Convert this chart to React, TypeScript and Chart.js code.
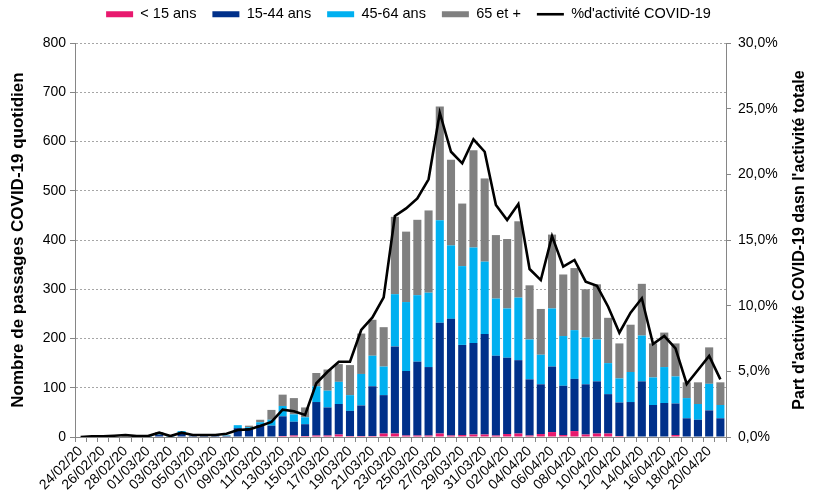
import React, { useEffect, useRef } from "react";
import { Chart, registerables } from "chart.js";

Chart.register(...registerables);

const categories = [
  "24/02/20", "25/02/20", "26/02/20", "27/02/20", "28/02/20", "29/02/20",
  "01/03/20", "02/03/20", "03/03/20", "04/03/20", "05/03/20", "06/03/20", "07/03/20", "08/03/20",
  "09/03/20", "10/03/20", "11/03/20", "12/03/20", "13/03/20", "14/03/20", "15/03/20", "16/03/20",
  "17/03/20", "18/03/20", "19/03/20", "20/03/20", "21/03/20", "22/03/20", "23/03/20", "24/03/20",
  "25/03/20", "26/03/20", "27/03/20", "28/03/20", "29/03/20", "30/03/20", "31/03/20",
  "01/04/20", "02/04/20", "03/04/20", "04/04/20", "05/04/20", "06/04/20", "07/04/20", "08/04/20",
  "09/04/20", "10/04/20", "11/04/20", "12/04/20", "13/04/20", "14/04/20", "15/04/20", "16/04/20",
  "17/04/20", "18/04/20", "19/04/20", "20/04/20", "21/04/20",
];

const under15 = [
  0, 0, 0, 0, 0, 0, 0, 0, 0, 1, 0, 0, 0, 0, 1, 1, 1, 1, 2, 3, 2, 3, 3, 5, 2, 2, 2, 7, 7,
  3, 3, 3, 7, 3, 4, 5, 5, 3, 6, 7, 3, 6, 10, 4, 12, 5, 7, 7, 2, 1, 1, 1, 1, 4, 1, 1, 1, 1,
];
const age15to44 = [
  0, 0, 1, 0, 1, 1, 1, 4, 1, 6, 2, 2, 2, 2, 17, 17, 24, 22, 40, 28, 24, 68, 57, 62, 51, 62, 101, 78, 177,
  131, 150, 139, 225, 237, 183, 186, 204, 162, 155, 149, 114, 101, 133, 100, 106, 102, 106, 80, 68, 70, 112, 64, 68, 64, 37, 34, 53, 37,
];
const age45to64 = [
  0, 0, 0, 1, 0, 0, 1, 1, 1, 5, 1, 1, 1, 1, 6, 2, 5, 12, 21, 15, 14, 32, 34, 45, 32, 64, 62, 58, 106,
  140, 135, 151, 208, 149, 160, 194, 147, 116, 100, 127, 81, 60, 118, 101, 99, 95, 85, 63, 49, 61, 93, 56, 73, 55, 41, 32, 54, 27,
];
const age65plus = [
  0, 0, 0, 0, 1, 0, 0, 5, 0, 0, 0, 0, 1, 1, 0, 3, 5, 20, 23, 33, 20, 27, 43, 36, 61, 82, 73, 80, 157,
  143, 153, 167, 231, 174, 127, 197, 169, 129, 141, 155, 110, 93, 150, 125, 126, 98, 112, 92, 71, 96, 105, 69, 70, 67, 32, 44, 74, 46,
];
const covidShare = [
  0.0, 0.05, 0.05, 0.1, 0.15, 0.07, 0.07, 0.33, 0.07, 0.33, 0.15, 0.15, 0.15, 0.25, 0.53, 0.58, 0.84, 1.15,
  2.08, 1.96, 1.68, 4.09, 4.97, 5.73, 5.73, 8.15, 9.1, 10.63, 16.83, 17.41, 18.17, 19.62, 24.69, 21.72,
  20.84, 22.67, 21.72, 17.66, 16.52, 17.74, 12.79, 11.95, 15.3, 12.97, 13.48, 11.83, 11.52, 9.92, 7.94,
  9.47, 10.56, 7.08, 7.69, 6.75, 4.04, 5.1, 6.17, 4.39,
];

const seriesLabels = ["< 15 ans", "15-44 ans", "45-64 ans", "65 et +", "%d'activité COVID-19"];
const seriesColors = ["#E8196E", "#00308A", "#00B0F0", "#808080", "#000000"];

const leftTitle = "Nombre de passages COVID-19 quotidien";
const rightTitle = "Part d'activité COVID-19 dasn l'activité totale";

const FONT = "'Liberation Sans', Arial, Helvetica, sans-serif";

export default function App() {
  const ref = useRef<HTMLCanvasElement>(null);

  useEffect(() => {
    if (!ref.current) return;
    Chart.defaults.font.family = FONT;
    Chart.defaults.color = "#000";

    const legendSizer = {
      id: "legendSizer",
      beforeInit(chart: any) {
        const lg = chart.legend;
        if (!lg) return;
        const orig = lg.fit;
        lg.fit = function () {
          orig.call(this);
          this.height = 52;
        };
      },
    };

    const rightTitlePlugin = {
      id: "rightTitlePlugin",
      afterDraw(chart: any) {
        const { ctx, chartArea } = chart;
        ctx.save();
        ctx.font = "bold 16px " + FONT;
        ctx.fillStyle = "#000";
        ctx.textAlign = "center";
        ctx.textBaseline = "middle";
        ctx.translate(800, (chartArea.top + chartArea.bottom) / 2);
        ctx.rotate(-Math.PI / 2);
        ctx.fillText(rightTitle, 0, 0);
        ctx.restore();
      },
    };

    const barSeries = [under15, age15to44, age45to64, age65plus];
    const datasets: any[] = barSeries.map((data, i) => ({
      type: "bar",
      label: seriesLabels[i],
      data,
      backgroundColor: seriesColors[i],
      borderWidth: 0,
      yAxisID: "y",
      stack: "ages",
      order: 1,
      barPercentage: 0.72,
      categoryPercentage: 1.0,
    }));
    datasets.push({
      type: "line",
      label: seriesLabels[4],
      data: covidShare,
      borderColor: "#000",
      backgroundColor: "#000",
      borderWidth: 2.6,
      pointRadius: 0,
      tension: 0,
      yAxisID: "y1",
      order: 0,
    });

    const chart = new Chart(ref.current, {
      type: "bar",
      data: { labels: categories, datasets },
      options: {
        animation: false,
        responsive: true,
        maintainAspectRatio: false,
        layout: { padding: { top: -9, left: 0, right: 0, bottom: 0 } },
        plugins: {
          tooltip: { enabled: false },
          legend: {
            position: "top",
            labels: {
              color: "#000",
              font: { size: 14.5 },
              padding: 16,
              usePointStyle: true,
              pointStyleWidth: 27,
              boxHeight: 6,
              generateLabels: (c: any) =>
                c.data.datasets.map((ds: any, i: number) => ({
                  text: ds.label,
                  fillStyle: seriesColors[i],
                  strokeStyle: seriesColors[i],
                  lineWidth: i === 4 ? 2.6 : 0,
                  pointStyle: i === 4 ? "line" : "rect",
                  hidden: false,
                  datasetIndex: i,
                  fontColor: "#000",
                })),
            },
          },
        },
        scales: {
          x: {
            stacked: true,
            offset: true,
            grid: {
              display: true,
              drawOnChartArea: false,
              drawTicks: true,
              tickLength: 5,
              color: "#868686",
              offset: true,
            },
            border: { display: true, color: "#868686" },
            ticks: {
              autoSkip: false,
              maxRotation: 45,
              minRotation: 45,
              padding: 1,
              color: "#000",
              font: { size: 14 },
              callback: (_v: any, i: number) => (i % 2 === 0 ? categories[i] : ""),
            },
            afterFit: (s: any) => {
              s.height = 60;
            },
          },
          y: {
            position: "left",
            stacked: true,
            min: 0,
            max: 800,
            ticks: { stepSize: 100, color: "#000", font: { size: 14 }, padding: 4 },
            grid: {
              color: "#A6A6A6",
              drawTicks: true,
              tickLength: 5,
              tickColor: "#868686",
            },
            border: { display: true, color: "#868686", dash: [2, 2] },
            title: {
              display: true,
              text: leftTitle,
              color: "#000",
              font: { size: 17, weight: "bold" },
              padding: { top: 8, bottom: 0 },
            },
            afterFit: (s: any) => {
              s.width = 75;
            },
          },
          y1: {
            position: "right",
            min: 0,
            max: 30,
            ticks: {
              stepSize: 5,
              color: "#000",
              font: { size: 14 },
              padding: 7,
              callback: (v: any) => Number(v).toFixed(1).replace(".", ",") + "%",
            },
            grid: {
              drawOnChartArea: false,
              drawTicks: true,
              tickLength: 5,
              tickColor: "#868686",
            },
            border: { display: true, color: "#868686" },
            afterFit: (s: any) => {
              s.width = 91;
            },
          },
        },
      } as any,
      plugins: [legendSizer, rightTitlePlugin],
    });

    return () => chart.destroy();
  }, []);

  return (
    <div style={{ position: "absolute", left: 0, top: 0, width: 817, height: 497 }}>
      <canvas ref={ref} />
    </div>
  );
}
